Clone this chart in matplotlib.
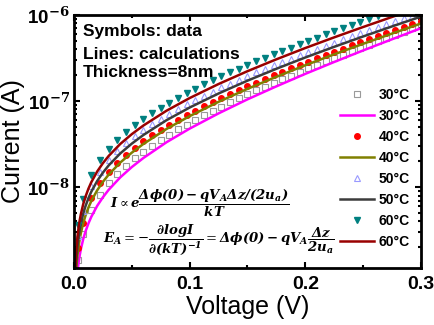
import matplotlib
matplotlib.use('Agg')
import matplotlib.pyplot as plt
import numpy as np
from matplotlib.ticker import MultipleLocator, LogLocator, NullFormatter

plt.rcParams['font.family'] = ['Liberation Sans', 'DejaVu Sans']
plt.rcParams['mathtext.fontset'] = 'dejavuserif'

# voltages (V) of the measured points
voltage_data = [0.0035, 0.0075, 0.015, 0.0225, 0.03, 0.0375, 0.045, 0.0525, 0.06, 0.0675,
                0.075, 0.0825, 0.09, 0.0975, 0.105, 0.1125, 0.12, 0.1275, 0.135, 0.1425,
                0.15, 0.1575, 0.165, 0.1725, 0.18, 0.1875, 0.195, 0.2025, 0.21, 0.2175,
                0.225, 0.2325, 0.24, 0.2475, 0.255, 0.2625, 0.27, 0.2775, 0.285, 0.2925, 0.3]
# log10 of current (A)
log_i_30_data = [-8.846, -8.549, -8.266, -8.089, -7.955, -7.845, -7.750, -7.666, -7.590, -7.519,
                 -7.452, -7.390, -7.330, -7.274, -7.219, -7.166, -7.115, -7.065, -7.016, -6.969,
                 -6.923, -6.877, -6.833, -6.789, -6.746, -6.704, -6.662, -6.620, -6.580, -6.539,
                 -6.499, -6.460, -6.421, -6.382, -6.344, -6.306, -6.268, -6.230, -6.193, -6.156, -6.119]
log_i_40_data = [-8.707, -8.411, -8.130, -7.955, -7.824, -7.716, -7.624, -7.542, -7.468, -7.399,
                 -7.335, -7.275, -7.217, -7.163, -7.110, -7.060, -7.011, -6.963, -6.917, -6.872,
                 -6.828, -6.785, -6.742, -6.701, -6.660, -6.620, -6.580, -6.541, -6.503, -6.465,
                 -6.427, -6.390, -6.353, -6.316, -6.280, -6.244, -6.209, -6.174, -6.139, -6.104, -6.069]
log_i_50_data = [-8.567, -8.272, -7.992, -7.819, -7.688, -7.582, -7.491, -7.410, -7.337, -7.269,
                 -7.206, -7.147, -7.091, -7.037, -6.986, -6.937, -6.889, -6.842, -6.797, -6.753,
                 -6.710, -6.668, -6.627, -6.587, -6.547, -6.508, -6.469, -6.432, -6.394, -6.357,
                 -6.321, -6.285, -6.249, -6.214, -6.178, -6.144, -6.109, -6.075, -6.041, -6.008]
log_i_60_data = [-8.437, -8.142, -7.862, -7.689, -7.558, -7.452, -7.361, -7.280, -7.207, -7.139,
                 -7.076, -7.017, -6.961, -6.907, -6.856, -6.807, -6.759, -6.712, -6.667, -6.623,
                 -6.580, -6.538, -6.497, -6.457, -6.417, -6.378, -6.339, -6.302, -6.264, -6.227,
                 -6.191, -6.155, -6.119, -6.084, -6.048, -6.014]

# calculated curves
voltage_calc = [0.001, 0.002, 0.003, 0.004, 0.005, 0.006, 0.008, 0.01, 0.0125, 0.015, 0.02, 0.025,
                0.03, 0.04, 0.05, 0.06, 0.08, 0.1, 0.125, 0.15, 0.175, 0.2, 0.225, 0.25, 0.275, 0.3]
log_i_30_calc = [-9.396, -9.136, -8.983, -8.873, -8.787, -8.716, -8.602, -8.512, -8.420, -8.343, -8.218, -8.117,
                 -8.030, -7.886, -7.766, -7.661, -7.478, -7.320, -7.143, -6.980, -6.829, -6.684, -6.546, -6.412, -6.282, -6.154]
log_i_40_calc = [-9.206, -8.947, -8.794, -8.685, -8.599, -8.529, -8.416, -8.327, -8.236, -8.160, -8.037, -7.938,
                 -7.854, -7.714, -7.599, -7.498, -7.324, -7.175, -7.009, -6.858, -6.718, -6.584, -6.457, -6.335, -6.216, -6.099]
log_i_50_calc = [-9.097, -8.837, -8.685, -8.575, -8.490, -8.419, -8.306, -8.218, -8.127, -8.051, -7.929, -7.831,
                 -7.747, -7.608, -7.494, -7.394, -7.222, -7.075, -6.912, -6.763, -6.625, -6.494, -6.370, -6.250, -6.133, -6.019]
log_i_60_calc = [-8.987, -8.727, -8.575, -8.465, -8.380, -8.309, -8.196, -8.108, -8.017, -7.941, -7.819, -7.721,
                 -7.637, -7.498, -7.384, -7.284, -7.112, -6.965, -6.802, -6.653, -6.515, -6.384, -6.260, -6.140, -6.023, -5.909]

temp_labels = ['30°C', '40°C', '50°C', '60°C']

fig = plt.figure(figsize=(4.34, 3.25), dpi=100)
ax = fig.add_axes([0.1705, 0.175, 0.7995, 0.779])

vd = np.array(voltage_data)
vc = np.array(voltage_calc)

ax.plot(vd, 10 ** np.array(log_i_30_data), 's', ms=4, mfc='none', mec='#9a9a9a', mew=0.8, label=temp_labels[0])
ax.plot(vc, 10 ** np.array(log_i_30_calc), '-', color='#ff00ff', lw=1.8, label=temp_labels[0])
ax.plot(vd, 10 ** np.array(log_i_40_data), 'o', ms=4, color='#ff0000', mec='#ff0000', label=temp_labels[1])
ax.plot(vc, 10 ** np.array(log_i_40_calc), '-', color='#808000', lw=1.8, label=temp_labels[1])
ax.plot(vd[:len(log_i_50_data)], 10 ** np.array(log_i_50_data), '^', ms=4.5, mfc='none', mec='#9999ff', mew=0.8, label=temp_labels[2])
ax.plot(vc, 10 ** np.array(log_i_50_calc), '-', color='#3c3c3c', lw=1.8, label=temp_labels[2])
ax.plot(vd[:len(log_i_60_data)], 10 ** np.array(log_i_60_data), 'v', ms=5, color='#008080', label=temp_labels[3])
ax.plot(vc, 10 ** np.array(log_i_60_calc), '-', color='#990000', lw=1.8, label=temp_labels[3])

ax.set_yscale('log')
ax.set_xlim(0, 0.3)
ax.set_ylim(10 ** -8.94, 1e-6)

ax.xaxis.set_major_locator(MultipleLocator(0.1))
ax.xaxis.set_minor_locator(MultipleLocator(0.05))
ax.set_xticks([0.0, 0.1, 0.2, 0.3])
ax.set_xticklabels(['0.0', '0.1', '0.2', '0.3'], fontsize=14, fontweight='bold')
ax.set_yticks([1e-8, 1e-7, 1e-6])
ax.set_yticklabels([r'10$^{\mathbf{-8}}$', r'10$^{\mathbf{-7}}$', r'10$^{\mathbf{-6}}$'],
                   fontsize=13.5, fontweight='bold')
ax.yaxis.set_minor_locator(LogLocator(base=10, subs=np.arange(2, 10)))
ax.yaxis.set_minor_formatter(NullFormatter())
ax.tick_params(which='both', direction='in', top=True, right=True, width=1.5)
ax.tick_params(axis='x', pad=6)
ax.tick_params(axis='y', pad=3)
ax.tick_params(which='major', length=4)
ax.tick_params(which='minor', length=2.5)
for s in ax.spines.values():
    s.set_linewidth(2)

ax.set_xlabel('Voltage (V)', fontsize=18, labelpad=1)
ax.set_ylabel('Current (A)', fontsize=18, labelpad=2)

ax.text(0.026, 0.933, 'Symbols: data', transform=ax.transAxes, fontsize=12.5, fontweight='bold', va='center')
ax.text(0.026, 0.842, 'Lines: calculations', transform=ax.transAxes, fontsize=12.5, fontweight='bold', va='center')
ax.text(0.026, 0.771, 'Thickness=8nm', transform=ax.transAxes, fontsize=12.5, fontweight='bold', va='center')

ax.text(0.104, 0.257, r'$\mathbfit{I} \propto \mathbfit{e}\dfrac{\mathbfit{\Delta\phi(0)-qV_A\Delta z/(2u_a)}}{\mathbfit{kT}}$',
        transform=ax.transAxes, fontsize=9.5, va='center')
ax.text(0.084, 0.111, r'$\mathbfit{E_A}=-\dfrac{\mathbfit{\partial logI}}{\mathbfit{\partial(kT)^{-1}}}=\mathbfit{\Delta\phi(0)-qV_A}\dfrac{\mathbfit{\Delta z}}{\mathbfit{2u_a}}$',
        transform=ax.transAxes, fontsize=9.5, va='center')

ax.legend(loc='upper left', bbox_to_anchor=(0.767, 0.711), frameon=False, borderpad=0, borderaxespad=0,
          handlelength=2.45, handletextpad=0.3, labelspacing=0.5,
          prop={'weight': 'bold', 'size': 10})

fig.savefig('out.png', dpi=100)
